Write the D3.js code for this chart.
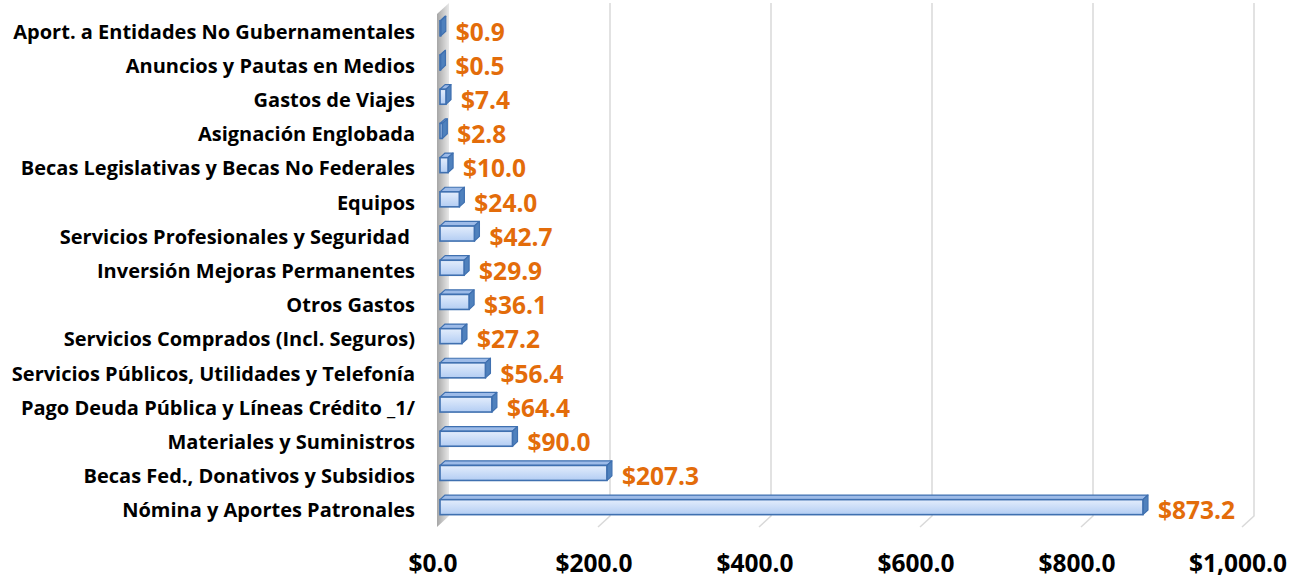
<!DOCTYPE html>
<html>
<head>
<meta charset="utf-8">
<script src="https://cdn.jsdelivr.net/npm/d3@7"></script>
<style>
  body { margin: 0; background: #fff; }
  text { font-family: "Open Sans", Lato, sans-serif; font-weight: bold; }
</style>
</head>
<body>
<div id="chart"></div>
<script>
const categories = [
  "Aport. a Entidades No Gubernamentales",
  "Anuncios y Pautas en Medios",
  "Gastos de Viajes",
  "Asignación Englobada",
  "Becas Legislativas y Becas No Federales",
  "Equipos",
  "Servicios Profesionales y Seguridad ",
  "Inversión Mejoras Permanentes",
  "Otros Gastos",
  "Servicios Comprados (Incl. Seguros)",
  "Servicios Públicos, Utilidades y Telefonía",
  "Pago Deuda Pública y Líneas Crédito _1/",
  "Materiales y Suministros",
  "Becas Fed., Donativos y Subsidios",
  "Nómina y Aportes Patronales"
];
const values = [0.9, 0.5, 7.4, 2.8, 10.0, 24.0, 42.7, 29.9, 36.1, 27.2, 56.4, 64.4, 90.0, 207.3, 873.2];
const ticks = [0, 200, 400, 600, 800, 1000];

const W = 1300, H = 578;
// depth vector of the 3D box (floor front -> back wall)
const DX = 12, DY = -11;
const zFront = 0.25, zBack = 0.67;

const svg = d3.select("#chart").append("svg")
  .attr("width", W).attr("height", H);

const x = d3.scaleLinear().domain([0, 1000]).range([437, 1242]);
const y = d3.scaleBand().domain(categories).range([14, 527]);

const defs = svg.append("defs");
const wallGrad = defs.append("linearGradient").attr("id", "wall")
  .attr("x1", 0).attr("x2", 1).attr("y1", 0).attr("y2", 0);
wallGrad.append("stop").attr("offset", "0%").attr("stop-color", "#a6a6a6");
wallGrad.append("stop").attr("offset", "100%").attr("stop-color", "#e8e8e8");

const faceGrad = defs.append("linearGradient").attr("id", "face")
  .attr("x1", 0).attr("x2", 0).attr("y1", 0).attr("y2", 1);
faceGrad.append("stop").attr("offset", "0%").attr("stop-color", "#e3edfc");
faceGrad.append("stop").attr("offset", "100%").attr("stop-color", "#b3cdf3");

const floorFront = y.range()[1], topFront = y.range()[0];

// gridlines on back wall + floor
svg.append("g").selectAll("path")
  .data(ticks.slice(1))
  .join("path")
  .attr("d", d => `M${x(d) + DX},${topFront + DY} L${x(d) + DX},${floorFront + DY} L${x(d)},${floorFront}`)
  .attr("fill", "none")
  .attr("stroke", "#d9d9d9")
  .attr("stroke-width", 1.5);

// left side wall
svg.append("path")
  .attr("d", `M${x(0)},${topFront} L${x(0) + DX},${topFront + DY} L${x(0) + DX},${floorFront + DY} L${x(0)},${floorFront} Z`)
  .attr("fill", "url(#wall)");

// bars
const bh = 15;
const ox = DX * zFront, oy = DY * zFront;
const dx = DX * (zBack - zFront), dy = DY * (zBack - zFront);
const bars = svg.append("g").selectAll("g")
  .data(categories.map((c, i) => ({ c, v: values[i] })))
  .join("g");

bars.each(function(d) {
  const g = d3.select(this);
  const x0 = x(0) + ox, x1 = x(d.v) + ox;
  const yc = y(d.c) + y.bandwidth() / 2 + oy;
  const y0 = yc - bh / 2, y1 = yc + bh / 2;
  // top face
  g.append("path")
    .attr("d", `M${x0},${y0} L${x0 + dx},${y0 + dy} L${x1 + dx},${y0 + dy} L${x1},${y0} Z`)
    .attr("fill", "#9dbbe8").attr("stroke", "#3f70b0").attr("stroke-width", 1.2)
    .attr("stroke-linejoin", "round");
  // end cap
  g.append("path")
    .attr("d", `M${x1},${y0} L${x1 + dx},${y0 + dy} L${x1 + dx},${y1 + dy} L${x1},${y1} Z`)
    .attr("fill", "#4f81bd").attr("stroke", "#3f70b0").attr("stroke-width", 1.2)
    .attr("stroke-linejoin", "round");
  // front face
  g.append("rect")
    .attr("x", x0).attr("y", y0)
    .attr("width", Math.max(x1 - x0, 0.5)).attr("height", bh)
    .attr("fill", "url(#face)").attr("stroke", "#3f70b0").attr("stroke-width", 1.6);
});

// value labels
const fmt = d3.format(",.1f");
svg.append("g").selectAll("text")
  .data(categories.map((c, i) => ({ c, v: values[i] })))
  .join("text")
  .attr("x", d => x(d.v) + ox + dx + 10)
  .attr("y", d => y(d.c) + y.bandwidth() / 2)
  .attr("dominant-baseline", "central")
  .attr("fill", "#e36c0a")
  .style("font-size", "24.5px")
  .text(d => "$" + fmt(d.v));

// category labels
svg.append("g").selectAll("text")
  .data(categories)
  .join("text")
  .attr("x", 415)
  .attr("y", d => y(d) + y.bandwidth() / 2)
  .attr("text-anchor", "end")
  .attr("dominant-baseline", "central")
  .attr("fill", "#000")
  .style("font-size", "20px")
  .style("white-space", "pre")
  .text(d => d);

// x axis tick labels
svg.append("g").selectAll("text")
  .data(ticks)
  .join("text")
  .attr("x", d => x(d) - 4)
  .attr("y", 562)
  .attr("text-anchor", "middle")
  .attr("dominant-baseline", "central")
  .attr("fill", "#000")
  .style("font-size", "24.5px")
  .text(d => "$" + fmt(d));
</script>
</body>
</html>
